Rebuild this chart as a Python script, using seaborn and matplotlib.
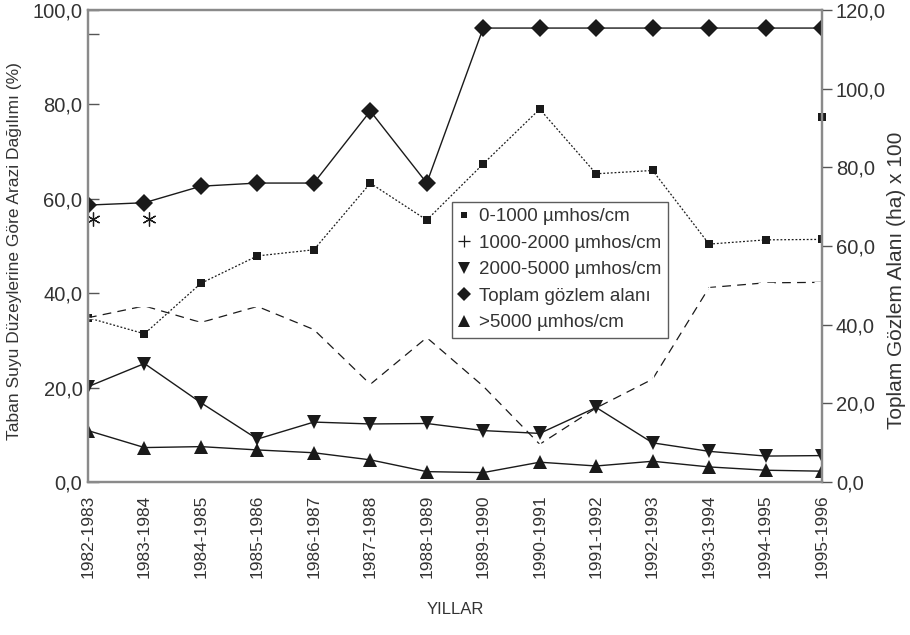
import numpy as np
import pandas as pd
import matplotlib
matplotlib.use('Agg')
import matplotlib.pyplot as plt
import matplotlib.transforms as mtransforms
from matplotlib.lines import Line2D
from matplotlib.ticker import FuncFormatter
import seaborn as sns

# Data
years = ['1982-1983', '1983-1984', '1984-1985', '1985-1986', '1986-1987',
         '1987-1988', '1988-1989', '1989-1990', '1990-1991', '1991-1992',
         '1992-1993', '1993-1994', '1994-1995', '1995-1996']
s_0_1000 = [34.8, 31.4, 42.1, 47.9, 49.2, 63.3, 55.5, 67.4, 79.0, 65.3, 66.0, 50.4, 51.3, 51.4]
s_1000_2000 = [34.8, 37.3, 33.8, 37.2, 32.3, 20.7, 30.6, 20.3, 8.0, 15.7, 21.8, 41.2, 42.2, 42.3]
s_2000_5000 = [20.2, 25.1, 16.8, 9.1, 12.7, 12.3, 12.4, 10.9, 10.3, 15.8, 8.3, 6.5, 5.5, 5.6]
s_over_5000 = [10.9, 7.3, 7.5, 6.8, 6.2, 4.7, 2.2, 2.0, 4.2, 3.4, 4.4, 3.2, 2.5, 2.3]
toplam = [70.4, 71.0, 75.2, 76.0, 76.0, 94.3, 76.0, 115.4, 115.4, 115.4, 115.4, 115.4, 115.4, 115.4]

# stray marks in the original chart
extra_square_year = ['1995-1996']
extra_square_val = [77.3]
star_years = ['1982-1983', '1983-1984']
star_vals = [55.7, 55.7]

labels = ['0-1000 µmhos/cm', '1000-2000 µmhos/cm', '2000-5000 µmhos/cm',
          'Toplam gözlem alanı', '>5000 µmhos/cm']

sns.set_style('white')
plt.rcParams['font.family'] = ['Liberation Sans', 'DejaVu Sans']

x = np.arange(len(years))
df = pd.DataFrame({'x': x, 'a': s_0_1000, 'b': s_1000_2000, 'c': s_2000_5000,
                   'd': s_over_5000, 't': toplam})

fig = plt.figure(figsize=(9.1, 6.35), dpi=100)
ax = fig.add_axes([0.0967, 0.2409, 0.8066, 0.7434])
ax2 = ax.twinx()

black = '#1a1a1a'
txt = '#333333'
sns.lineplot(data=df, x='x', y='a', ax=ax, color=black, lw=0.9, linestyle=(0, (1.5, 1.5)),
             marker='s', markersize=6, markeredgewidth=0)
sns.lineplot(data=df, x='x', y='b', ax=ax, color=black, lw=0.9, linestyle=(0, (7, 5)),
             marker='+', markersize=11, markeredgewidth=1.0)
sns.lineplot(data=df, x='x', y='c', ax=ax, color=black, lw=1.0,
             marker='v', markersize=10, markeredgewidth=0)
sns.lineplot(data=df, x='x', y='d', ax=ax, color=black, lw=1.0,
             marker='^', markersize=10, markeredgewidth=0)
sns.lineplot(data=df, x='x', y='t', ax=ax2, color=black, lw=1.0,
             marker='D', markersize=9, markeredgewidth=0)

idx = {y: i for i, y in enumerate(years)}
ax.plot([idx[y] for y in extra_square_year], extra_square_val, 's', color=black,
        markersize=6, markeredgewidth=0, clip_on=False)
# asterisk-like marks, nudged a little to the right as in the original
offset = mtransforms.ScaledTranslation(5 / 100, 0, fig.dpi_scale_trans)
ax.plot([idx[y] for y in star_years], star_vals, linestyle='none',
        marker=(6, 2, 0), color=black, markersize=10, markeredgewidth=0.9,
        transform=ax.transData + offset)

comma = FuncFormatter(lambda v, p: f'{v:.1f}'.replace('.', ','))
ax.set_xlim(0, len(years) - 1)
ax.set_ylim(0, 100)
ax2.set_ylim(0, 120)
ax.set_xticks(x)
ax.set_xticklabels(years, rotation=90, fontsize=12.5, color=txt)
ax.set_yticks(np.arange(0, 101, 20))
ax.set_yticks([95], minor=True)
ax.yaxis.set_major_formatter(comma)
ax2.set_yticks(np.arange(0, 121, 20))
ax2.yaxis.set_major_formatter(comma)
ax.tick_params(axis='y', direction='in', length=8, width=1, labelsize=14.5,
               labelcolor=txt, color='#555555', pad=4)
ax.tick_params(axis='y', which='minor', direction='in', length=8, width=1, color='#555555')
ax.tick_params(axis='x', direction='out', length=8, width=1, color='#555555', pad=1)
ax2.tick_params(axis='y', direction='out', length=7, width=1, labelsize=14.5,
                labelcolor=txt, color='#555555', pad=3)

for a in (ax, ax2):
    for sp in a.spines.values():
        sp.set_visible(True)
        sp.set_color('#8a8a8a')
        sp.set_linewidth(1.6)

ax.set_xlabel('YILLAR', fontsize=12, color=txt)
ax.xaxis.set_label_coords(0.5, -0.271)
ax.xaxis.label.set_va('center')
ax.set_ylabel('Taban Suyu Düzeylerine Göre Arazi Dağılımı (%)', fontsize=12.5, color=txt)
ax.yaxis.set_label_coords(-0.0995, 0.49)
ax.yaxis.label.set_va('center')
ax2.set_ylabel('Toplam Gözlem Alanı (ha) x 100', fontsize=15, color=txt)
ax2.yaxis.set_label_coords(1.101, 0.427)
ax2.yaxis.label.set_va('center')

handles = [
    Line2D([], [], ls='none', marker='s', color=black, markersize=5, markeredgewidth=0),
    Line2D([], [], ls='none', marker='+', color=black, markersize=8, markeredgewidth=0.9),
    Line2D([], [], ls='none', marker='v', color=black, markersize=8, markeredgewidth=0),
    Line2D([], [], ls='none', marker='D', color=black, markersize=7, markeredgewidth=0),
    Line2D([], [], ls='none', marker='^', color=black, markersize=8, markeredgewidth=0),
]
leg = ax2.legend(handles, labels, loc='upper left', bbox_to_anchor=(0.496, 0.594),
                 frameon=True, fancybox=False, fontsize=13.5, handlelength=0.6,
                 handletextpad=0.5, borderpad=0.35, labelspacing=0.5, borderaxespad=0)
leg.get_frame().set_edgecolor('#333333')
leg.get_frame().set_linewidth(1.0)
for t in leg.get_texts():
    t.set_color(txt)

fig.savefig('out.png', dpi=100)
